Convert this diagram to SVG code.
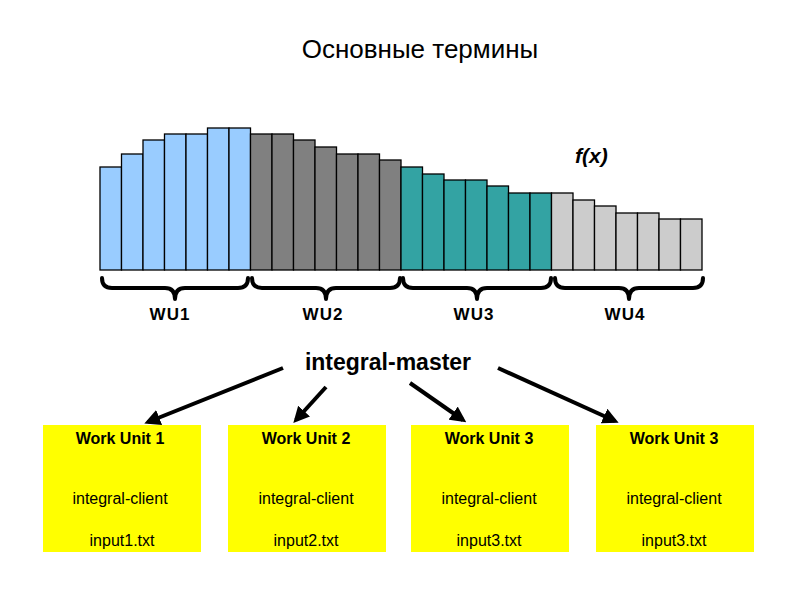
<svg xmlns="http://www.w3.org/2000/svg" width="794" height="595" viewBox="0 0 794 595">
<style>
text{font-family:"Liberation Sans",Arial,sans-serif;fill:#000}
.b1{fill:#99ccff}.b2{fill:#808080}.b3{fill:#33a3a3}.b4{fill:#cccccc}
rect.bar{stroke:#000;stroke-width:1.3}
.br{fill:none;stroke:#000;stroke-width:4;stroke-linejoin:round;stroke-linecap:round}
.wu{font-size:17px;font-weight:bold;text-anchor:middle;letter-spacing:1px}
.box{fill:#ffff00}
.h{font-size:16px;font-weight:bold;text-anchor:middle}
.t{font-size:16px;text-anchor:middle}
.ar{stroke:#000;stroke-width:4;fill:none;marker-end:url(#ah)}
</style>
<defs><marker id="ah" markerWidth="4" markerHeight="4" refX="3" refY="2" orient="auto"><path d="M0,0 L4,2 L0,4 z" fill="#000"/></marker></defs>
<rect width="794" height="595" fill="#fff"/>
<text x="420" y="58" font-size="26" text-anchor="middle">Основные термины</text>
<g id="chart">
<rect class="bar b1" x="100" y="167" width="21.5" height="103"/>
<rect class="bar b1" x="121.5" y="154" width="21.5" height="116"/>
<rect class="bar b1" x="143" y="140" width="21.5" height="130"/>
<rect class="bar b1" x="164.5" y="134" width="21.5" height="136"/>
<rect class="bar b1" x="186" y="134" width="21.5" height="136"/>
<rect class="bar b1" x="207.5" y="128" width="21.5" height="142"/>
<rect class="bar b1" x="229" y="128" width="21.5" height="142"/>
<rect class="bar b2" x="250.5" y="134" width="21.5" height="136"/>
<rect class="bar b2" x="272" y="134" width="21.5" height="136"/>
<rect class="bar b2" x="293.5" y="140" width="21.5" height="130"/>
<rect class="bar b2" x="315" y="147" width="21.5" height="123"/>
<rect class="bar b2" x="336.5" y="154" width="21.5" height="116"/>
<rect class="bar b2" x="358" y="154" width="21.5" height="116"/>
<rect class="bar b2" x="379.5" y="160" width="21.5" height="110"/>
<rect class="bar b3" x="401" y="167" width="21.5" height="103"/>
<rect class="bar b3" x="422.5" y="174" width="21.5" height="96"/>
<rect class="bar b3" x="444" y="180" width="21.5" height="90"/>
<rect class="bar b3" x="465.5" y="180" width="21.5" height="90"/>
<rect class="bar b3" x="487" y="186" width="21.5" height="84"/>
<rect class="bar b3" x="508.5" y="193" width="21.5" height="77"/>
<rect class="bar b3" x="530" y="193" width="21.5" height="77"/>
<rect class="bar b4" x="551.5" y="193" width="21.5" height="77"/>
<rect class="bar b4" x="573" y="200" width="21.5" height="70"/>
<rect class="bar b4" x="594.5" y="206" width="21.5" height="64"/>
<rect class="bar b4" x="616" y="213" width="21.5" height="57"/>
<rect class="bar b4" x="637.5" y="213" width="21.5" height="57"/>
<rect class="bar b4" x="659" y="219" width="21.5" height="51"/>
<rect class="bar b4" x="680.5" y="219" width="21.5" height="51"/>
<text x="575" y="163" font-size="21" font-weight="bold" font-style="italic">f(x)</text>
<path class="br" d="M102,278 Q102,288 112,288 L165,288 Q175,288 175,299 Q175,288 185,288 L238,288 Q248,288 248,278"/>
<path class="br" d="M252,278 Q252,288 262,288 L316,288 Q326,288 326,299 Q326,288 336,288 L390,288 Q400,288 400,278"/>
<path class="br" d="M403,278 Q403,288 413,288 L467,288 Q477,288 477,299 Q477,288 487,288 L541,288 Q551,288 551,278"/>
<path class="br" d="M555,278 Q555,288 565,288 L619,288 Q629,288 629,299 Q629,288 639,288 L693,288 Q703,288 703,278"/>
<text class="wu" x="170" y="320">WU1</text>
<text class="wu" x="323" y="320">WU2</text>
<text class="wu" x="474" y="320">WU3</text>
<text class="wu" x="625" y="320">WU4</text>
</g>
<g id="master"><text x="388" y="370" font-size="23" font-weight="bold" text-anchor="middle">integral-master</text></g>
<g id="connectors">
<line class="ar" x1="283" y1="368" x2="148" y2="422"/>
<line class="ar" x1="326" y1="387" x2="296" y2="420"/>
<line class="ar" x1="410" y1="383" x2="463" y2="420"/>
<line class="ar" x1="498" y1="368" x2="615" y2="421"/>
</g>
<g id="wu1"><rect class="box" x="43" y="425" width="158" height="127"/><text class="h" x="120" y="444">Work Unit 1</text><text class="t" x="120" y="504">integral-client</text><text class="t" x="122" y="546">input1.txt</text></g>
<g id="wu2"><rect class="box" x="228" y="425" width="158" height="127"/><text class="h" x="306" y="444">Work Unit 2</text><text class="t" x="306" y="504">integral-client</text><text class="t" x="306" y="546">input2.txt</text></g>
<g id="wu3"><rect class="box" x="411" y="425" width="158" height="127"/><text class="h" x="489" y="444">Work Unit 3</text><text class="t" x="489" y="504">integral-client</text><text class="t" x="489" y="546">input3.txt</text></g>
<g id="wu4"><rect class="box" x="596" y="425" width="158" height="127"/><text class="h" x="674" y="444">Work Unit 3</text><text class="t" x="674" y="504">integral-client</text><text class="t" x="674" y="546">input3.txt</text></g>
</svg>
